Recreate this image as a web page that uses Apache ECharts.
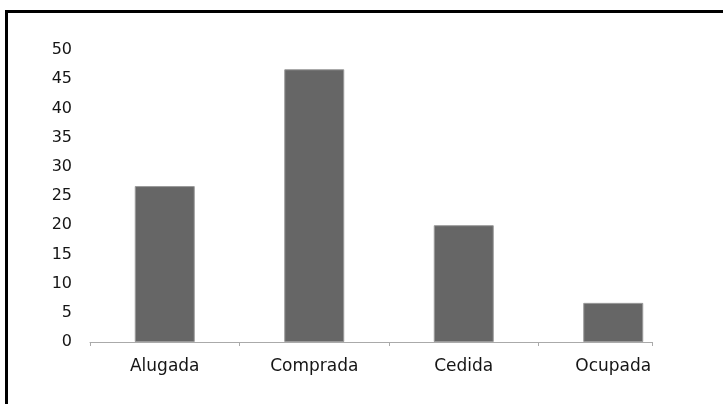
<!DOCTYPE html>
<html>
<head>
<meta charset="utf-8">
<script src="https://cdn.jsdelivr.net/npm/echarts@6/dist/echarts.min.js"></script>
<style>
  html, body { margin: 0; padding: 0; background: #fff; overflow: hidden; }
  #frame {
    position: absolute; left: 5px; top: 10px; width: 800px; height: 500px;
    border-left: 3px solid #000; border-top: 3px solid #000;
  }
  #chart { position: absolute; left: 0; top: 0; width: 723px; height: 404px; }
</style>
</head>
<body>
<div id="frame"></div>
<div id="chart"></div>
<script>
// dados do gráfico
const categories = ['Alugada', 'Comprada', 'Cedida', 'Ocupada']
const valores = [26.7, 46.7, 20.0, 6.7]
const yMin = 0
const yMax = 50
const yStep = 5

const fonte = 'DejaVu Sans'

const chart = echarts.init(document.getElementById('chart'), null, { renderer: 'canvas' })

chart.setOption({
  animation: false,
  backgroundColor: 'transparent',
  grid: [
    { left: 90, top: 50, width: 598, height: 292 },
    // só para a linha do eixo x (termina antes do fim da área)
    { left: 90, top: 50, width: 562, height: 292 }
  ],
  xAxis: [{
    type: 'category',
    gridIndex: 0,
    data: categories,
    axisLine: { show: false },
    axisTick: { show: false },
    axisLabel: {
      margin: 16,
      color: '#151515',
      fontFamily: fonte,
      fontSize: 17
    }
  }, {
    type: 'value',
    gridIndex: 1,
    min: 0,
    max: 3.76,
    interval: 1,
    splitLine: { show: false },
    axisLabel: { show: false },
    axisLine: { show: true, lineStyle: { color: '#aaa', width: 1 } },
    axisTick: { show: true, length: 4, lineStyle: { color: '#aaa' } }
  }],
  yAxis: [{
    type: 'value',
    gridIndex: 0,
    min: yMin,
    max: yMax,
    interval: yStep,
    splitLine: { show: false },
    axisLine: { show: false },
    axisTick: { show: false },
    axisLabel: {
      margin: 18,
      color: '#151515',
      fontFamily: fonte,
      fontSize: 16
    }
  }, {
    type: 'value',
    gridIndex: 1,
    show: false
  }],
  series: [{
    name: 'Condição',
    type: 'bar',
    xAxisIndex: 0,
    yAxisIndex: 0,
    barWidth: 60,
    itemStyle: {
      color: '#666666',
      borderColor: '#9a9a9a',
      borderWidth: 1
    },
    data: valores
  }]
})
</script>
</body>
</html>
